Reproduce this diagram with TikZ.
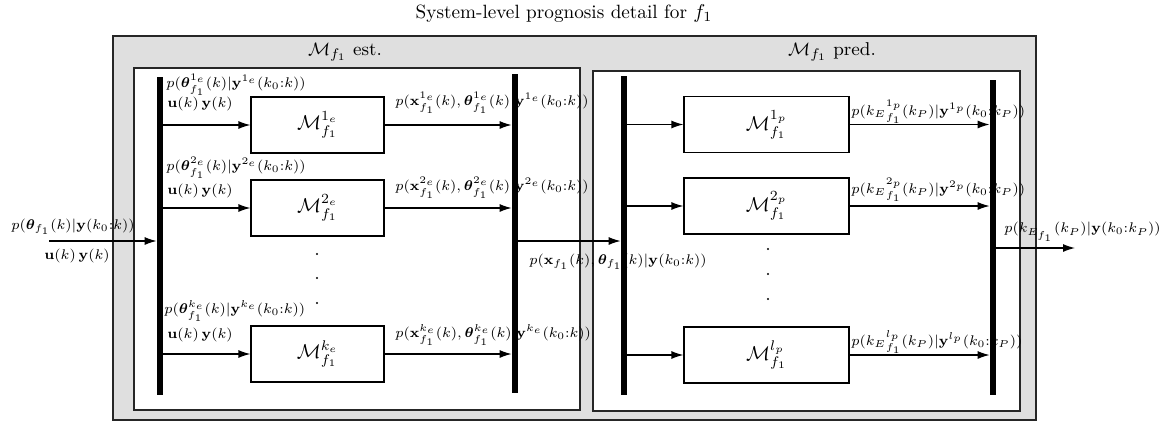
\documentclass[tikz,border=0pt]{standalone}
\usepackage{amsmath}
\usepackage{bm}
\usetikzlibrary{arrows.meta}
\begin{document}
\begin{tikzpicture}[x=0.5pt,y=-0.5pt,
  frame/.style={draw=black!85, line width=0.6pt, inner sep=0pt},
  bar/.style={fill=black, inner sep=0pt, minimum width=3pt},
  mbox/.style={draw, line width=0.6pt, fill=white, inner sep=0pt, minimum height=28pt, font=\normalsize},
  lab/.style={font=\fontsize{7.1}{8.5}\selectfont, inner sep=0pt, anchor=west},
  head/.style={font=\fontsize{9.3}{11}\selectfont},
  arr/.style={-{Latex[length=6pt,width=4pt]}, line width=0.6pt},
  dotn/.style={circle, fill=black, inner sep=0pt, minimum size=1.1pt}]
\useasboundingbox (0,0) rectangle (1163,423);
\node[font=\fontsize{9.6}{11}\selectfont] (title) at (564,14) {System-level prognosis detail for $f_1$};
% frames
\node[frame, fill=gray!25, minimum width=461.5pt, minimum height=192pt] (outer) at (574.5,228) {};
\node[frame, fill=white, minimum width=223pt, minimum height=171pt] (estframe) at (357,239) {};
\node[frame, fill=white, minimum width=213.5pt, minimum height=170pt] (predframe) at (806.5,241) {};
\node[head] (esthead) at (345,52) {$\mathcal{M}_{f_1}$ est.};
\node[head] (predhead) at (832,52) {$\mathcal{M}_{f_1}$ pred.};
% labels (estimation)
\node[lab] (te1) at (166,85) {$p(\bm{\theta}^{1_e}_{f_1}(k)|\mathbf{y}^{1_e}(k_0{:}k))$};
\node[lab] (ue1) at (167,104) {$\mathbf{u}(k)\,\mathbf{y}(k)$};
\node[lab] (te2) at (166,168) {$p(\bm{\theta}^{2_e}_{f_1}(k)|\mathbf{y}^{2_e}(k_0{:}k))$};
\node[lab] (ue2) at (167,191) {$\mathbf{u}(k)\,\mathbf{y}(k)$};
\node[lab] (te3) at (164,311) {$p(\bm{\theta}^{k_e}_{f_1}(k)|\mathbf{y}^{k_e}(k_0{:}k))$};
\node[lab] (ue3) at (167,335) {$\mathbf{u}(k)\,\mathbf{y}(k)$};
\node[lab] (oe1) at (395,103) {$p(\mathbf{x}^{1_e}_{f_1}(k),\bm{\theta}^{1_e}_{f_1}(k)|\mathbf{y}^{1_e}(k_0{:}k))$};
\node[lab] (oe2) at (395,188) {$p(\mathbf{x}^{2_e}_{f_1}(k),\bm{\theta}^{2_e}_{f_1}(k)|\mathbf{y}^{2_e}(k_0{:}k))$};
\node[lab] (oe3) at (395,335) {$p(\mathbf{x}^{k_e}_{f_1}(k),\bm{\theta}^{k_e}_{f_1}(k)|\mathbf{y}^{k_e}(k_0{:}k))$};
% labels (prediction)
\node[lab] (op1) at (851,112) {$p(k_E{}^{1_p}_{f_1}(k_P)|\mathbf{y}^{1_p}(k_0{:}k_P))$};
\node[lab] (op2) at (851,190) {$p(k_E{}^{2_p}_{f_1}(k_P)|\mathbf{y}^{2_p}(k_0{:}k_P))$};
\node[lab] (op3) at (851,342) {$p(k_E{}^{l_p}_{f_1}(k_P)|\mathbf{y}^{l_p}(k_0{:}k_P))$};
% outer labels
\node[lab] (inlab) at (11,227) {$p(\bm{\theta}_{f_1}(k)|\mathbf{y}(k_0{:}k))$};
\node[lab] (inu) at (44,256) {$\mathbf{u}(k)\,\mathbf{y}(k)$};
\node[lab] (midlab) at (529,262) {$p(\mathbf{x}_{f_1}(k),\bm{\theta}_{f_1}(k)|\mathbf{y}(k_0{:}k))$};
\node[lab] (outlab) at (1004,232) {$p(k_{E_{f_1}}(k_P)|\mathbf{y}(k_0{:}k_P))$};
% model boxes
\node[mbox, minimum width=66.5pt] (e1) at (317.5,125) {$\mathcal{M}^{1_e}_{f_1}$};
\node[mbox, minimum width=66.5pt] (e2) at (317.5,208) {$\mathcal{M}^{2_e}_{f_1}$};
\node[mbox, minimum width=66.5pt] (e3) at (317.5,354) {$\mathcal{M}^{k_e}_{f_1}$};
\node[mbox, minimum width=82.5pt] (p1) at (766.5,124.5) {$\mathcal{M}^{1_p}_{f_1}$};
\node[mbox, minimum width=82.5pt] (p2) at (766.5,206) {$\mathcal{M}^{2_p}_{f_1}$};
\node[mbox, minimum width=82.5pt] (p3) at (766.5,355) {$\mathcal{M}^{l_p}_{f_1}$};
% dots
\node[dotn] (ed1) at (317,254) {};
\node[dotn] (ed2) at (317,278) {};
\node[dotn] (ed3) at (317,303) {};
\node[dotn] (pd1) at (768,249) {};
\node[dotn] (pd2) at (768,274) {};
\node[dotn] (pd3) at (768,299) {};
% bars
\node[bar, minimum height=159pt] (estL) at (160,236) {};
\node[bar, minimum height=159.5pt] (estR) at (515,233.5) {};
\node[bar, minimum height=159.5pt] (predL) at (624,235.5) {};
\node[bar, minimum height=157.5pt] (predR) at (993,237.5) {};
% arrows
\foreach \b in {e1,e2,e3}{
  \draw[arr] (estL.east |- \b.west) -- (\b.west);
  \draw[arr] (\b.east) -- (\b.east -| estR.west);
}
\foreach \b in {p1,p2,p3}{
  \draw[arr] (predL.east |- \b.west) -- (\b.west);
  \draw[arr] (\b.east) -- (\b.east -| predR.west);
}
\coordinate (in) at (49,241);
\coordinate (mid) at (560,241);
\coordinate (out) at (1075,248);
\draw[arr] (in) -- (in -| estL.west);
\draw[arr] (estR.east |- mid) -- (predL.west |- mid);
\draw[arr] (predR.east |- out) -- (out);
\end{tikzpicture}
\end{document}
